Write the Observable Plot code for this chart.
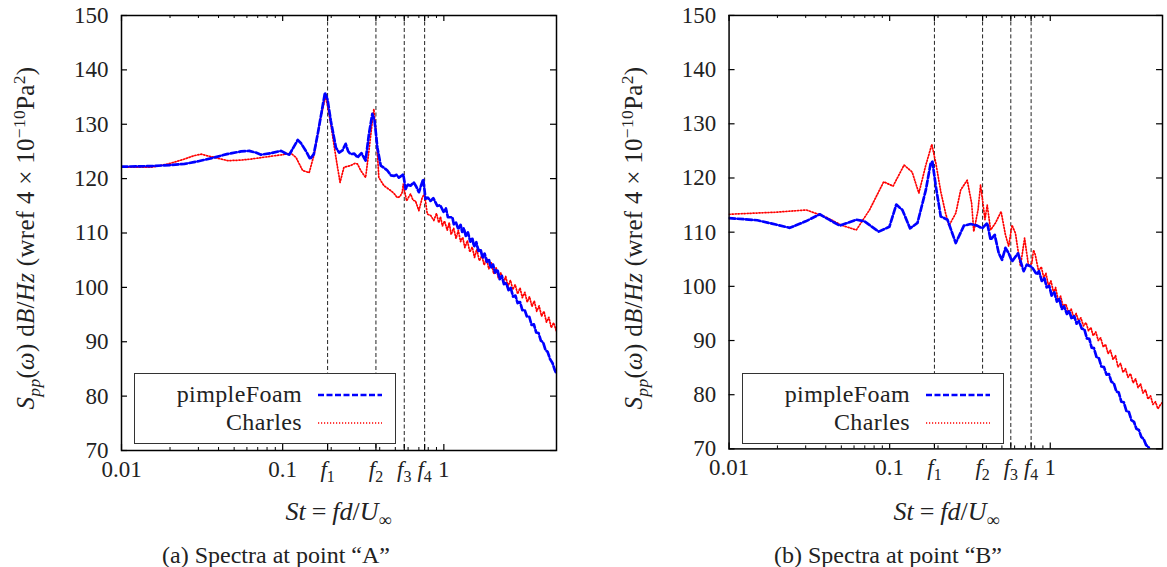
<!DOCTYPE html>
<html><head><meta charset="utf-8">
<script src="https://cdn.jsdelivr.net/npm/d3@7"></script>
<script src="https://cdn.jsdelivr.net/npm/@observablehq/plot@0.6"></script>
<style>
body{margin:0;background:#fff;}
#fig{position:relative;width:1167px;height:567px;overflow:hidden;font-family:"Liberation Serif",serif;color:#222;background:#fff;}
.panel{position:absolute;top:0;}
.ylab{position:absolute;white-space:nowrap;font-size:25px;letter-spacing:0.3px;transform:translate(-50%,-50%) rotate(-90deg);}
.xlab{position:absolute;white-space:nowrap;font-size:26px;transform:translate(-50%,-50%);}
.cap{position:absolute;white-space:nowrap;font-size:24px;transform:translate(-50%,-50%);}
sub,sup{font-size:70%;line-height:0;}
.eq{padding:0 6px;}
.legend{position:absolute;border:1.3px solid #333;background:#fff;box-sizing:border-box;}
.legend span{position:absolute;font-size:24px;line-height:22px;height:22px;text-align:right;letter-spacing:0.4px;}
.legend svg{position:absolute;}
</style></head>
<body><div id="fig"></div>
<script>
// ---------- data ----------
const yTicks = [70, 80, 90, 100, 110, 120, 130, 140, 150];
const fValues = [0.19, 0.379, 0.568, 0.76];
const xLabelValues = [0.01, 0.1, 0.19, 0.379, 0.568, 0.76, 1];
const xLabelTexts = ["0.01", "0.1", "f1", "f2", "f3", "f4", "1"];
const xMajorTicks = [0.01, 0.1, 0.19, 0.379, 0.568, 0.76, 1];
const xMinorTicks = [0.02,0.03,0.04,0.05,0.06,0.07,0.08,0.09,0.2,0.3,0.4,0.5,0.6,0.7,0.8,0.9];
const seriesNames = ["pimpleFoam", "Charles"];
const captions = ["(a) Spectra at point \u201cA\u201d", "(b) Spectra at point \u201cB\u201d"];

// Point A, pimpleFoam
const stA_pf = [0.0100,0.0153,0.0200,0.0246,0.0300,0.0378,0.0450,0.0552,0.0620,0.0680,0.0734,0.0850,0.0977,0.1050,0.1100,0.1170,0.1240,0.1300,0.1400,0.1480,0.1560,0.1650,0.1750,0.1830,0.1900,0.1990,0.2140,0.2240,0.2350,0.2460,0.2550,0.2640,0.2780,0.2910,0.3080,0.3270,0.3430,0.3600,0.3720,0.3870,0.4060,0.4250,0.4460,0.4700,0.4900,0.5100,0.5260,0.5450,0.5600,0.5790,0.6000,0.6210,0.6510,0.6750,0.7000,0.7200,0.7450,0.7580,0.7690,0.7950,0.8260,0.8600,0.9100,0.9500,1.000,1.030,1.060,1.100,1.130,1.153,1.190,1.230,1.270,1.300,1.330,1.370,1.410,1.460,1.500,1.540,1.590,1.640,1.690,1.740,1.790,1.850,1.900,1.960,2.020,2.080,2.150,2.220,2.290,2.360,2.440,2.520,2.600,2.690,2.780,2.870,2.970,3.070,3.170,3.280,3.390,3.500,3.620,3.740,3.870,4.000,4.130,4.270,4.410,4.560,4.720,4.880,5.000];
const dbA_pf = [122.2,122.3,122.5,122.7,123.2,123.9,124.5,125.0,125.1,124.8,124.4,124.7,125.1,124.6,124.4,125.8,127.1,126.5,125.0,123.6,124.5,128.2,132.5,135.8,134.5,130.6,125.7,124.8,125.2,126.4,125.0,124.5,124.6,123.9,124.7,123.3,128.2,131.9,130.6,125.7,122.4,122.0,121.5,120.6,120.5,120.7,120.2,120.5,120.8,118.1,118.9,118.7,119.3,118.5,117.5,118.6,119.9,118.0,116.3,116.5,115.9,116.4,115.0,115.1,113.8,114.5,112.9,112.9,112.9,111.6,111.9,110.7,111.5,110.2,110.9,109.4,110.1,108.4,109.1,107.5,108.3,106.7,107.0,105.4,106.2,104.7,105.2,103.6,104.2,102.7,103.3,101.5,102.1,100.6,100.8,99.5,99.9,98.3,98.5,97.1,97.3,95.8,95.9,94.6,94.6,93.1,93.2,91.7,91.6,90.2,89.9,88.5,88.1,86.8,86.1,84.8,84.1];

// Point A, Charles
const stA_ch = [0.0100,0.0153,0.0195,0.0246,0.0280,0.0313,0.0340,0.0378,0.0457,0.0550,0.0637,0.0750,0.0887,0.1000,0.1120,0.1210,0.1330,0.1460,0.1570,0.1720,0.1850,0.1990,0.2140,0.2270,0.2400,0.2640,0.2800,0.2910,0.3050,0.3270,0.3430,0.3600,0.3680,0.3830,0.3950,0.4250,0.4680,0.4900,0.5140,0.5350,0.5520,0.5600,0.5870,0.6210,0.6450,0.6670,0.7000,0.7340,0.7590,0.7890,0.8300,0.8670,0.9000,0.9300,0.9530,0.9800,1.010,1.050,1.080,1.110,1.150,1.190,1.230,1.270,1.310,1.350,1.400,1.450,1.500,1.550,1.600,1.660,1.720,1.780,1.840,1.900,1.970,2.040,2.110,2.180,2.260,2.340,2.420,2.500,2.590,2.680,2.770,2.870,2.970,3.070,3.180,3.290,3.400,3.520,3.640,3.770,3.900,4.040,4.180,4.330,4.480,4.640,4.800,5.000];
const dbA_ch = [122.1,122.1,122.7,123.6,124.2,124.5,124.2,123.9,123.3,123.4,123.6,123.9,124.2,124.4,124.7,123.9,121.5,121.1,124.5,131.2,135.2,130.0,123.9,119.3,122.1,122.4,122.8,122.7,121.5,120.2,125.1,130.6,132.8,127.0,120.2,118.7,117.8,117.3,116.5,116.7,117.5,119.0,115.9,117.2,116.0,115.9,114.1,116.5,117.2,113.5,113.2,112.3,113.6,111.9,113.0,111.3,112.2,110.5,111.9,109.7,110.9,109.0,110.5,108.4,109.2,107.3,108.6,106.5,107.4,105.5,107.0,104.9,105.8,104.1,105.4,103.4,104.5,102.5,103.6,101.7,102.7,100.9,102.0,100.2,101.3,99.6,100.5,98.8,99.9,98.1,99.1,97.3,98.3,96.5,97.5,95.6,96.6,94.7,95.6,93.6,94.5,92.6,93.5,91.9];

// Point B, pimpleFoam
const stB_pf = [0.0100,0.0150,0.0239,0.0300,0.0367,0.0420,0.0489,0.0620,0.0697,0.0855,0.0996,0.1100,0.1200,0.1340,0.1490,0.1680,0.1800,0.1846,0.1940,0.2080,0.2290,0.2580,0.2900,0.3190,0.3510,0.3770,0.4050,0.4250,0.4510,0.4780,0.5010,0.5260,0.5510,0.5780,0.6300,0.6830,0.7150,0.7680,0.8240,0.8500,0.8850,0.9200,0.9500,0.9850,1.020,1.060,1.100,1.140,1.180,1.220,1.270,1.310,1.360,1.410,1.460,1.510,1.570,1.630,1.690,1.750,1.810,1.870,1.940,2.010,2.080,2.160,2.240,2.320,2.400,2.490,2.580,2.670,2.770,2.870,2.980,3.090,3.200,3.320,3.440,3.560,3.690,3.820,3.950,4.060,4.200];
const dbB_pf = [112.6,112.2,110.8,112.0,113.3,112.3,111.2,112.3,112.0,110.1,111.0,115.1,114.1,110.7,111.7,117.8,122.7,123.0,118.4,112.9,112.3,108.0,111.2,111.5,111.2,110.7,111.7,108.6,109.5,106.1,104.9,107.1,106.1,104.6,106.1,102.8,104.0,103.6,102.2,102.8,101.0,101.5,99.8,100.1,98.3,98.9,97.2,97.7,95.8,96.3,94.9,95.5,94.0,94.5,93.1,93.6,92.2,92.1,90.4,90.3,88.7,88.6,87.0,86.7,85.2,85.1,83.7,83.8,82.4,82.1,80.6,80.4,78.7,78.6,77.0,76.8,75.3,75.0,73.7,73.5,72.2,71.8,70.7,70.5,69.5];

// Point B, Charles
const stB_ch = [0.0100,0.0200,0.0303,0.0400,0.0500,0.0620,0.0749,0.0918,0.1050,0.1230,0.1380,0.1520,0.1680,0.1830,0.1940,0.2080,0.2230,0.2340,0.2580,0.2770,0.3040,0.3240,0.3340,0.3550,0.3680,0.3800,0.3920,0.4050,0.4250,0.4560,0.4940,0.5260,0.5510,0.5780,0.6070,0.6520,0.6920,0.7330,0.7680,0.7870,0.8070,0.8460,0.8800,0.9100,0.9400,0.9750,1.010,1.050,1.080,1.120,1.160,1.200,1.250,1.300,1.350,1.400,1.450,1.500,1.550,1.610,1.670,1.730,1.790,1.850,1.920,1.990,2.060,2.140,2.210,2.290,2.370,2.460,2.550,2.640,2.740,2.840,2.940,3.050,3.160,3.280,3.400,3.520,3.650,3.780,3.920,4.060,4.210,4.360,4.520,4.680,4.840,5.000];
const dbB_ch = [113.3,113.7,114.1,112.8,111.3,110.4,114.1,119.3,118.5,122.4,121.1,117.2,122.4,126.2,122.7,117.5,113.5,111.2,113.5,117.8,119.6,115.3,110.1,114.1,118.7,115.6,112.3,115.0,110.4,111.7,113.8,109.5,107.4,111.3,109.8,103.7,108.9,103.7,104.3,106.7,105.8,102.8,103.6,101.6,102.4,100.1,101.0,98.8,99.8,97.4,98.2,96.4,96.7,95.2,95.8,94.3,95.0,93.6,94.2,92.7,93.3,91.8,92.4,90.9,91.6,90.0,90.5,88.8,89.3,87.6,88.2,86.5,87.2,85.1,85.8,84.1,84.8,83.2,83.9,82.2,82.9,81.3,82.0,80.3,80.9,79.2,79.8,78.2,78.7,77.4,78.1,78.6];

// ---------- layout ----------
const W = 561, H = 490, ML = 121, MR = 5, MT = 15, MB = 40;
const innerW = W - ML - MR, innerH = H - MT - MB;
const BLUE = "#0000ff", RED = "#ff0000";
const FONT = "Liberation Serif, serif";

function makePanel(stPf, dbPf, stCh, dbCh) {
  const pf = stPf.map((x, i) => ({x, y: dbPf[i]}));
  const ch = stCh.map((x, i) => ({x, y: dbCh[i]}));
  const xl = xLabelValues.map((v, i) => ({v, t: xLabelTexts[i]}));
  const svg = Plot.plot({
    width: W, height: H, marginLeft: ML, marginRight: MR, marginTop: MT, marginBottom: MB,
    style: {fontFamily: FONT, fontSize: "23px", color: "#222", background: "transparent"},
    x: {type: "log", domain: [0.01, 5], axis: null},
    y: {domain: [70, 150], axis: null},
    marks: [
      Plot.ruleX(fValues, {stroke: "#222", strokeWidth: 1, strokeDasharray: "4,2.5"}),
      Plot.line(ch, {x: "x", y: "y", stroke: RED, strokeWidth: 1.7, strokeDasharray: "1.2,1.8", clip: true}),
      Plot.line(pf, {x: "x", y: "y", stroke: BLUE, strokeWidth: 2.7, strokeDasharray: "6,2.5", clip: true}),
      Plot.ruleX(xMajorTicks, {insetTop: innerH - 6, stroke: "#000", strokeWidth: 1.2}),
      Plot.ruleX(xMajorTicks, {insetBottom: innerH - 6, stroke: "#000", strokeWidth: 1.2}),
      Plot.ruleX(xMinorTicks, {insetTop: innerH - 3, stroke: "#000", strokeWidth: 1}),
      Plot.ruleX(xMinorTicks, {insetBottom: innerH - 3, stroke: "#000", strokeWidth: 1}),
      Plot.ruleY(yTicks, {insetRight: innerW - 6, stroke: "#000", strokeWidth: 1.2}),
      Plot.ruleY(yTicks, {insetLeft: innerW - 6, stroke: "#000", strokeWidth: 1.2}),
      Plot.text(xl, {x: "v", frameAnchor: "bottom", dy: 26, text: "t", fontSize: 23, fontFamily: FONT, fill: "#222"}),
      Plot.text(yTicks, {y: d => d, frameAnchor: "left", dx: -13, textAnchor: "end", text: d => String(d), fontSize: 23, fontFamily: FONT, fill: "#222"}),
      Plot.frame({stroke: "#000", strokeWidth: 1.5})
    ]
  });
  // italic f with subscript index
  d3.select(svg).selectAll("text").each(function() {
    const t = this.textContent;
    if (/^f\d$/.test(t)) {
      const s = d3.select(this);
      s.text(null);
      s.append("tspan").attr("font-style", "italic").text("f");
      s.append("tspan").attr("font-size", 16).attr("dy", 5).text(t.slice(1));
    }
  });
  return svg;
}

const fig = document.getElementById("fig");
const panels = [
  {left: 0, data: [stA_pf, dbA_pf, stA_ch, dbA_ch], cap: captions[0], capX: 276},
  {left: 608, data: [stB_pf, dbB_pf, stB_ch, dbB_ch], cap: captions[1], capX: 888}
];
panels.forEach(p => {
  const div = document.createElement("div");
  div.className = "panel";
  div.style.left = p.left + "px";
  div.appendChild(makePanel(...p.data));
  fig.appendChild(div);

  const yl = document.createElement("div");
  yl.className = "ylab";
  yl.style.left = (p.left + 26) + "px";
  yl.style.top = "238px";
  yl.innerHTML = '<i>S</i><sub><i>pp</i></sub>(<i>\u03c9</i>) d<i>B</i>/<i>Hz</i> (wref 4 \u00d7 10<sup>\u221210</sup>Pa<sup>2</sup>)';
  fig.appendChild(yl);

  const xlab = document.createElement("div");
  xlab.className = "xlab";
  xlab.style.left = (p.left + ML + innerW / 2) + "px";
  xlab.style.top = "512px";
  xlab.innerHTML = '<i>St</i><span class="eq">=</span><i>fd</i>/<i>U</i><sub>\u221e</sub>';
  fig.appendChild(xlab);

  const cap = document.createElement("div");
  cap.className = "cap";
  cap.style.left = p.capX + "px";
  cap.style.top = "555px";
  cap.textContent = p.cap;
  fig.appendChild(cap);

  const lg = document.createElement("div");
  lg.className = "legend";
  lg.style.left = (p.left + ML + 13) + "px";
  lg.style.top = "373px";
  lg.style.width = "262px";
  lg.style.height = "71px";
  const rows = [{name: seriesNames[0], color: BLUE, w: 2.6, dash: "6,2.5", cy: 21},
                {name: seriesNames[1], color: RED, w: 1.7, dash: "1.2,1.8", cy: 49}];
  rows.forEach(r => {
    const sp = document.createElement("span");
    sp.style.right = "93px";
    sp.style.top = (r.cy - 12) + "px";
    sp.textContent = r.name;
    lg.appendChild(sp);
    const s = d3.create("svg").attr("width", 64).attr("height", 8)
      .style("left", "183px").style("top", (r.cy - 4) + "px");
    s.append("line").attr("x1", 0).attr("x2", 64).attr("y1", 4).attr("y2", 4)
      .attr("stroke", r.color).attr("stroke-width", r.w).attr("stroke-dasharray", r.dash);
    lg.appendChild(s.node());
  });
  fig.appendChild(lg);
});
</script></body></html>
